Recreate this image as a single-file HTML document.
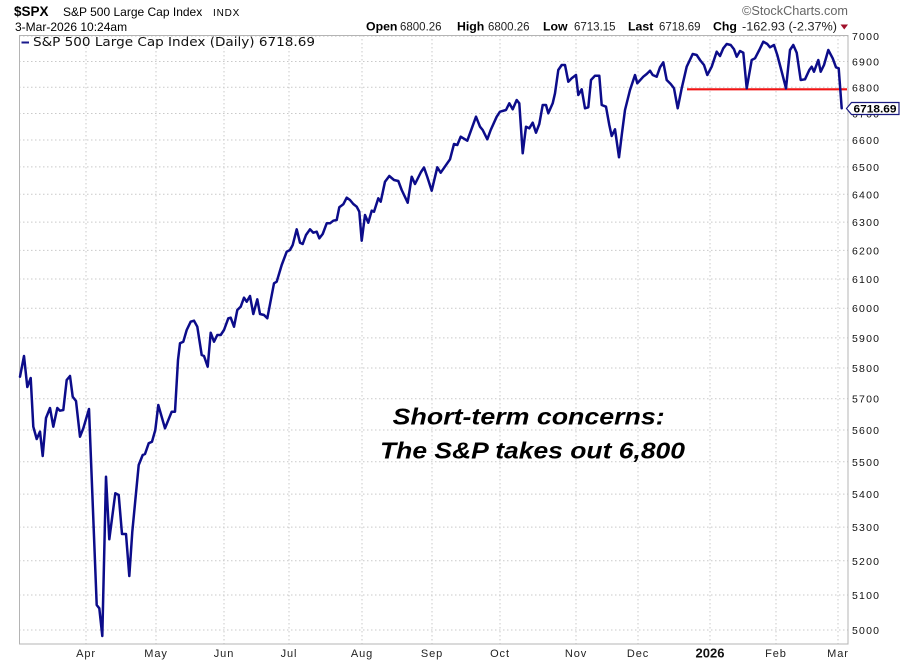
<!DOCTYPE html>
<html>
<head>
<meta charset="utf-8">
<style>
html,body{margin:0;padding:0;background:#fff;}
svg{display:block;}
text{font-family:"Liberation Sans",Arial,sans-serif;}
</style>
</head>
<body>
<svg width="900" height="663" viewBox="0 0 900 663" xmlns="http://www.w3.org/2000/svg">
<rect x="0" y="0" width="900" height="663" fill="#fff"/>

<!-- Header -->
<text x="14" y="16" font-size="13.5" font-weight="bold" fill="#000">$SPX</text>
<text x="63" y="16" font-size="12" fill="#000">S&amp;P 500 Large Cap Index</text>
<text x="213" y="16" font-size="10" fill="#000" letter-spacing="0.8">INDX</text>
<text x="15" y="31" font-size="12" fill="#000">3-Mar-2026 10:24am</text>

<text x="848" y="15" font-size="12.5" fill="#666" text-anchor="end" textLength="106" lengthAdjust="spacingAndGlyphs">©StockCharts.com</text>

<text x="366" y="30.5" font-size="12.3" font-weight="bold" fill="#000">Open</text>
<text x="400" y="30.5" font-size="11.5" fill="#222">6800.26</text>
<text x="457" y="30.5" font-size="12.3" font-weight="bold" fill="#000">High</text>
<text x="488" y="30.5" font-size="11.5" fill="#222">6800.26</text>
<text x="543" y="30.5" font-size="12.3" font-weight="bold" fill="#000">Low</text>
<text x="574" y="30.5" font-size="11.5" fill="#222">6713.15</text>
<text x="628" y="30.5" font-size="12.3" font-weight="bold" fill="#000">Last</text>
<text x="659" y="30.5" font-size="11.5" fill="#222">6718.69</text>
<text x="713" y="30.5" font-size="12.3" font-weight="bold" fill="#000">Chg</text>
<text x="742" y="30.5" font-size="11.5" fill="#222" textLength="95" lengthAdjust="spacingAndGlyphs">-162.93 (-2.37%)</text>
<polygon points="840.5,24.5 848,24.5 844.25,29.5" fill="#a0102a"/>

<!-- Grid -->
<g stroke="#c9c9c9" stroke-width="1" stroke-dasharray="1.5,2.5" fill="none">
<line x1="19" y1="630" x2="848" y2="630"/>
<line x1="19" y1="595.05" x2="848" y2="595.05"/>
<line x1="19" y1="560.78" x2="848" y2="560.78"/>
<line x1="19" y1="527.16" x2="848" y2="527.16"/>
<line x1="19" y1="494.16" x2="848" y2="494.16"/>
<line x1="19" y1="461.78" x2="848" y2="461.78"/>
<line x1="19" y1="429.97" x2="848" y2="429.97"/>
<line x1="19" y1="398.74" x2="848" y2="398.74"/>
<line x1="19" y1="368.04" x2="848" y2="368.04"/>
<line x1="19" y1="337.87" x2="848" y2="337.87"/>
<line x1="19" y1="308.2" x2="848" y2="308.2"/>
<line x1="19" y1="279.03" x2="848" y2="279.03"/>
<line x1="19" y1="250.33" x2="848" y2="250.33"/>
<line x1="19" y1="222.09" x2="848" y2="222.09"/>
<line x1="19" y1="194.29" x2="848" y2="194.29"/>
<line x1="19" y1="166.93" x2="848" y2="166.93"/>
<line x1="19" y1="139.98" x2="848" y2="139.98"/>
<line x1="19" y1="113.44" x2="848" y2="113.44"/>
<line x1="19" y1="87.29" x2="848" y2="87.29"/>
<line x1="19" y1="61.52" x2="848" y2="61.52"/>
<line x1="19" y1="36.13" x2="848" y2="36.13"/>

<line x1="86" y1="35" x2="86" y2="644"/>
<line x1="156" y1="35" x2="156" y2="644"/>
<line x1="224" y1="35" x2="224" y2="644"/>
<line x1="289" y1="35" x2="289" y2="644"/>
<line x1="362" y1="35" x2="362" y2="644"/>
<line x1="432" y1="35" x2="432" y2="644"/>
<line x1="500" y1="35" x2="500" y2="644"/>
<line x1="576" y1="35" x2="576" y2="644"/>
<line x1="638" y1="35" x2="638" y2="644"/>
<line x1="710" y1="35" x2="710" y2="644"/>
<line x1="776" y1="35" x2="776" y2="644"/>
<line x1="838" y1="35" x2="838" y2="644"/>
</g>

<!-- Frame -->
<rect x="19.5" y="35.5" width="828.5" height="608.5" fill="none" stroke="#b4b4b4" stroke-width="1"/>

<!-- Legend -->
<line x1="21.5" y1="42.5" x2="29" y2="42.5" stroke="#1a1a8c" stroke-width="2"/>
<text x="33" y="46" font-size="12" fill="#111" textLength="282" lengthAdjust="spacingAndGlyphs" style="font-family:'DejaVu Sans',Verdana,sans-serif">S&amp;P 500 Large Cap Index (Daily) 6718.69</text>

<!-- Y axis labels -->
<g font-size="10.5" fill="#111" letter-spacing="1.2">
<text x="852" y="634">5000</text>
<text x="852" y="599">5100</text>
<text x="852" y="564.8">5200</text>
<text x="852" y="531.2">5300</text>
<text x="852" y="498.2">5400</text>
<text x="852" y="465.8">5500</text>
<text x="852" y="434">5600</text>
<text x="852" y="402.7">5700</text>
<text x="852" y="372">5800</text>
<text x="852" y="341.9">5900</text>
<text x="852" y="312.2">6000</text>
<text x="852" y="283">6100</text>
<text x="852" y="254.3">6200</text>
<text x="852" y="226.1">6300</text>
<text x="852" y="198.3">6400</text>
<text x="852" y="170.9">6500</text>
<text x="852" y="144">6600</text>
<text x="852" y="117.4">6700</text>
<text x="852" y="91.3">6800</text>
<text x="852" y="65.5">6900</text>
<text x="852" y="40.1">7000</text>
</g>

<!-- X axis labels -->
<g font-size="11" fill="#222" letter-spacing="0.9" text-anchor="middle">
<text x="86" y="657">Apr</text>
<text x="156" y="657">May</text>
<text x="224" y="657">Jun</text>
<text x="289" y="657">Jul</text>
<text x="362" y="657">Aug</text>
<text x="432" y="657">Sep</text>
<text x="500" y="657">Oct</text>
<text x="576" y="657">Nov</text>
<text x="638" y="657">Dec</text>
<text x="776" y="657">Feb</text>
<text x="838" y="657">Mar</text>
</g>
<text x="710" y="657.5" font-size="13" font-weight="bold" fill="#111" text-anchor="middle">2026</text>

<!-- Red support line -->
<line x1="687" y1="89.3" x2="847" y2="89.3" stroke="#f01414" stroke-width="2.2"/>

<!-- Price line -->
<polyline fill="none" stroke="#0c0c8a" stroke-width="2.5" stroke-linejoin="round" stroke-linecap="round" points="
20,376.7 24,356 27.3,387 30.7,378 33.3,426.7 36.7,439 40,431.7 42.7,456 46,418 50,408 53.3,426.7 57.3,408 60,410.7 63.3,410 66.7,380 70,376 72.7,396.7 76,401 80,436.7 83.3,428.3 89,409 96.7,605 99.3,608.3 102.3,636 106,476.7 109.3,539.3 115.3,493.3 118.7,495 122,534 126,534 129.3,576 132.3,531.7 138.7,465 142.7,455 145,454 148.7,443.3 152,441.7 155.3,430 158.3,405 165,428.3 171.7,411.7 175,411.7 178,360 180,343.3 183.3,341.7 186.7,330 190.7,321.7 194,320.7 197.3,326.7 201.7,355 204,356 207.7,366.7 210.7,332.7 214,341.7 217.3,335 220.7,335 224,330 228.3,318.3 230.7,317.7 234,326.7 237.3,310 240.7,306.7 244,297.7 246.7,301.7 250,296 253.3,314 257.3,299.3 260,314 264,315 267.3,318.3 274,283.3 276.7,281.7 281.7,265 286.7,251.7 290,250 292.7,245 296.7,229.3 300,242.7 302.7,244 306,235 310,229.3 313.3,232.7 316.7,231.7 319.3,238.3 322.7,234 326.7,223.3 330,223.3 333.3,220.7 336.7,220 339.3,207.3 343.3,204.3 346.7,197.7 350,200 353.3,204 356.7,206.7 359.3,211.7 361.7,240.7 365,215 368.3,222.7 371.7,210.7 374,211.7 378.3,198.3 380.7,201.7 385,181.7 389.3,176 394,180 398.3,181 401.7,190 407.7,202.7 411.7,176.7 415,184 421,172 424,167.5 427.3,177 431.7,190.7 437.3,167.3 440.7,172.7 450,159.3 454,144 457.3,145 460.7,136.7 467.3,140.7 476,116.7 480,126.7 482.7,130 487.3,139.3 490.7,130 496.7,116.7 500,111.7 506,110 509.3,103.3 512.7,109.3 516.7,100 519.3,103.3 522.7,153.3 526,126.7 529.3,128.3 532.7,122.7 536,132.7 539.3,124 542.7,105 546,105 548.3,113.3 552.7,103.3 555,93.3 558.3,70 561.7,65 565,65 568.3,81.7 571.7,78.3 576,75 578.3,95 581.7,89.3 585,108.3 588.3,107.3 591,80 595,75.7 599.3,75.7 601.7,105 606,106.7 609.3,125 611.7,136 615,129.3 619,157.3 622,133 625,110 630,90 635,75 637.3,83.3 643.3,76.7 646.7,74 650,70.7 652.7,75 656.7,76.7 660,67.3 663.3,62.3 666.7,80 670.7,84 674,88.3 677.7,108.3 681.7,88.3 686.7,66.7 692.7,54 696.7,55 700,60 704,65 707.3,75 711.7,66.7 716.7,51.7 720,56 723.3,48.3 726.7,44 730.7,45 734,49.3 736.7,56.7 740,51 743.3,52.7 746.7,88.3 751.7,60 755,58.3 759.3,50 763.3,41.7 767.3,44 770,47.3 774,45 777.3,55 781.7,71.7 786,88.3 790,50 793.3,45 796.7,52.7 800.7,80 805,79.3 809.3,70 811.7,66.7 814,71.7 818.3,60 820.7,71.7 824,65 828.3,50 832.7,58.3 836,67.3 838.7,68.3 841.7,108.3"/>

<!-- Last price tag -->
<polygon points="846.5,108.5 851.5,102.5 899,102.5 899,114.5 851.5,114.5" fill="#fff" stroke="#1a1a80" stroke-width="1.2"/>
<text x="853.5" y="112.6" font-size="11" font-weight="bold" fill="#000" textLength="43" lengthAdjust="spacingAndGlyphs">6718.69</text>

<!-- Annotation -->
<text x="392.7" y="424.3" font-size="23" font-weight="bold" font-style="italic" fill="#000" textLength="272" lengthAdjust="spacingAndGlyphs">Short-term concerns:</text>
<text x="380" y="458.3" font-size="23" font-weight="bold" font-style="italic" fill="#000" textLength="305" lengthAdjust="spacingAndGlyphs">The S&amp;P takes out 6,800</text>
</svg>
</body>
</html>
